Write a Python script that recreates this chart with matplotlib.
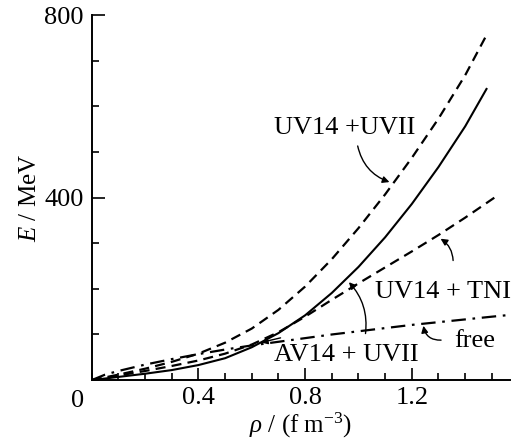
import numpy as np
import matplotlib
matplotlib.use('Agg')
import matplotlib.pyplot as plt
from matplotlib.ticker import MultipleLocator

plt.rcParams['font.family'] = ['Liberation Serif', 'DejaVu Serif']
plt.rcParams['mathtext.fontset'] = 'custom'
plt.rcParams['mathtext.rm'] = 'Liberation Serif'
plt.rcParams['mathtext.it'] = 'Liberation Serif:italic'

# density grid (fm^-3)
rho = [0.0, 0.1, 0.2, 0.3, 0.4, 0.5, 0.6, 0.7, 0.8, 0.9, 1.0, 1.1, 1.2, 1.3, 1.4, 1.48]
# energy per nucleon (MeV)
e_uv14_uvii = [0, 12, 25, 40, 58, 82, 113, 154, 205, 265, 333, 407, 487, 573, 668, 756]
e_av14_uvii = [0, 7, 14, 22, 33, 48, 72, 103, 142, 191, 248, 313, 386, 467, 556, 638]

rho_tni = [0.0, 0.1, 0.2, 0.3, 0.4, 0.5, 0.6, 0.7, 0.8, 0.9, 1.0, 1.1, 1.2, 1.3, 1.4, 1.5, 1.52]
e_uv14_tni = [0, 10, 20, 31, 43, 58, 78, 105, 139, 176, 212, 247, 282, 318, 356, 396, 404]

rho_free = [0.0, 0.05, 0.1, 0.2, 0.3, 0.4, 0.5, 0.6, 0.7, 0.8, 0.9, 1.0, 1.1, 1.2, 1.3, 1.4, 1.5, 1.57]
e_free = [0, 12, 20, 34, 46, 57, 67, 76, 84, 92, 100, 107, 114, 121, 127, 133, 139, 143]

fig = plt.figure(figsize=(5.11, 4.42), dpi=100)
ax = fig.add_axes([0.1795, 0.140, 0.8185, 0.826])

ax.plot(rho, e_uv14_uvii, color='black', lw=1.6, dashes=(4.5, 2.8))
ax.plot(rho, e_av14_uvii, color='black', lw=1.5)
ax.plot(rho_tni, e_uv14_tni, color='black', lw=1.6, dashes=(4.5, 2.8))
ax.plot(rho_free, e_free, color='black', lw=1.6, dashes=(6.5, 3, 1.2, 3))

ax.set_xlim(0, 1.568)
ax.set_ylim(0, 800)

for s in ['top', 'right']:
    ax.spines[s].set_visible(False)
for s in ['left', 'bottom']:
    ax.spines[s].set_linewidth(1.4)

ax.xaxis.set_major_locator(MultipleLocator(0.4))
ax.xaxis.set_minor_locator(MultipleLocator(0.1))
ax.yaxis.set_major_locator(MultipleLocator(400))
ax.yaxis.set_minor_locator(MultipleLocator(100))
ax.tick_params(which='both', direction='in', width=1.2, labelsize=19)
ax.tick_params(which='major', length=9)
ax.tick_params(which='minor', length=5)
ax.tick_params(axis='x', pad=5)
ax.tick_params(axis='y', pad=6)

ax.set_xticks([0.4, 0.8, 1.2])
ax.set_xticklabels(['0.4', '0.8', '1.2'])
ax.set_yticks([400, 800])
ax.set_yticklabels(['400', '800'])
ax.annotate('0', xy=(0, 0), xytext=(-10, -15), textcoords='offset points',
            ha='center', va='center', fontsize=19)

ax.set_xlabel(r'$\rho$ / (f m$^{-3}$)', fontsize=18)
ax.xaxis.set_label_coords(0.5, -0.125)
ax.xaxis.label.set_va('center')
ax.set_ylabel(r'$E$ / MeV', fontsize=18, labelpad=2)

# curve labels with arrows
arr = dict(arrowstyle='-|>', color='black', lw=1.0, mutation_scale=10)
ax.text(0.95, 552, 'UV14 +UVII', fontsize=19, ha='center', va='center')
ax.annotate('', xy=(1.126, 432), xytext=(0.995, 519),
            arrowprops=dict(arr, connectionstyle='arc3,rad=0.3'))

ax.text(1.318, 193, 'UV14 + TNI', fontsize=19, ha='center', va='center', clip_on=False)
ax.annotate('', xy=(1.299, 313), xytext=(1.355, 256),
            arrowprops=dict(arr, connectionstyle='arc3,rad=0.3'))

ax.text(1.435, 86, 'free', fontsize=19, ha='center', va='center')
ax.annotate('', xy=(1.242, 125), xytext=(1.32, 88),
            arrowprops=dict(arr, connectionstyle='arc3,rad=-0.5'))

ax.text(0.954, 55, 'AV14 + UVII', fontsize=19, ha='center', va='center')
ax.annotate('', xy=(0.957, 219), xytext=(1.025, 96),
            arrowprops=dict(arr, connectionstyle='arc3,rad=0.25'))
ax.annotate('', xy=(0.624, 81), xytext=(0.718, 94), arrowprops=arr)

fig.savefig('out.png', dpi=100)
